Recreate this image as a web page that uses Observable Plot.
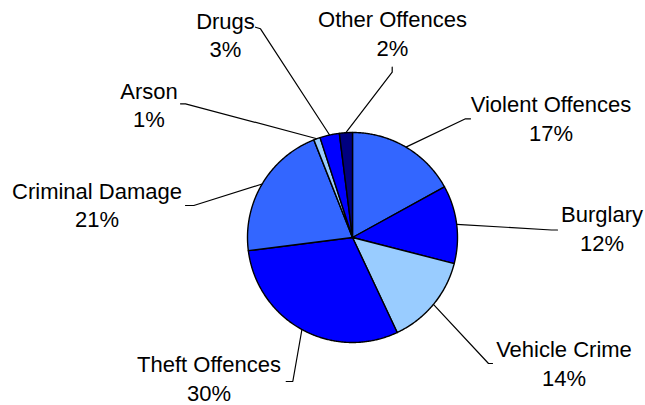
<!DOCTYPE html>
<html><head><meta charset="utf-8">
<script src="https://cdn.jsdelivr.net/npm/d3@7"></script>
<script src="https://cdn.jsdelivr.net/npm/@observablehq/plot@0.6"></script>
<style>html,body{margin:0;padding:0;background:#fff;overflow:hidden}</style>
</head><body><div id="chart"></div>
<script>
// ---- data ----
const categories = ["Violent Offences","Burglary","Vehicle Crime","Theft Offences","Criminal Damage","Arson","Drugs","Other Offences"];
const percentages = [17,12,14,30,21,1,3,2];

// ---- styles ----
const palette = ["#3366FF","#0000FF","#99CCFF","#0000FF","#3366FF","#99CCFF","#0000FF","#000080"];

// ---- layout ----
const W = 645, H = 405, CX = 352, CY = 237, R = 105;
const labelPos = [[550.5,140],[601.5,250],[563.5,385],[208.5,400],[96.5,226.5],[148.5,126.5],[225,56.5],[392,55]];
const leaderPts = [
  [[465,118.3],[470,118.3]],
  [[551,229.5],[557,229.5]],
  [[488,363],[492,363]],
  [[292.3,381],[285.7,381]],
  [[193.3,205],[185,205]],
  [[185,103.3],[180,103.3]],
  [[260,28.3],[255,26.7]],
  [[391.7,71.7],[391.7,66.7]]
];

const arcs = d3.pie().sort(null).value(d => d)(percentages);
const slices = [];
const leaders = [];
const labels = [];
arcs.forEach((a, i) => {
  const name = categories[i];
  slices.push({name, x: CX, y: CY});
  const span = a.endAngle - a.startAngle;
  const n = Math.max(2, Math.ceil(span / (Math.PI / 360)));
  for (let k = 0; k <= n; k++) {
    const t = a.startAngle + span * k / n;
    slices.push({name, x: CX + R * Math.sin(t), y: CY - R * Math.cos(t)});
  }
  slices.push({name, x: CX, y: CY});
  const mid = (a.startAngle + a.endAngle) / 2;
  leaders.push({name, x: CX + R * Math.sin(mid), y: CY - R * Math.cos(mid)});
  leaderPts[i].forEach(p => leaders.push({name, x: p[0], y: p[1]}));
  labels.push({name, x: labelPos[i][0], y: labelPos[i][1], text: name + "\n" + percentages[i] + "%"});
});

const chart = Plot.plot({
  width: W, height: H,
  margin: 0,
  x: {domain: [0, W], range: [0, W], axis: null},
  y: {domain: [0, H], range: [0, H], axis: null},
  color: {domain: categories, range: palette},
  style: {fontFamily: "'Liberation Sans', Arial, sans-serif", background: "#fff"},
  marks: [
    Plot.line(leaders, {x: "x", y: "y", z: "name", stroke: "#000", strokeWidth: 1.2, curve: "linear"}),
    Plot.line(slices, {x: "x", y: "y", z: "name", fill: "name", stroke: "#000", strokeWidth: 1.4, strokeLinejoin: "round", curve: "linear"}),
    Plot.text(labels, {x: "x", y: "y", text: "text", textAnchor: "middle", lineAnchor: "bottom", lineHeight: 1.28, fontSize: 22, fill: "#000"})
  ]
});
document.getElementById("chart").appendChild(chart);
</script>
</body></html>
